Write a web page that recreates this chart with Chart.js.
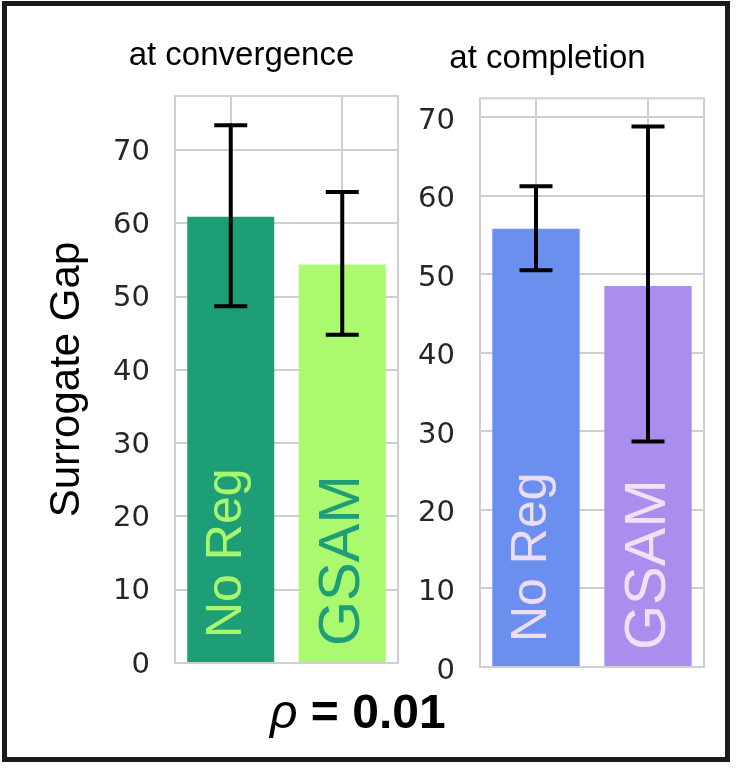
<!DOCTYPE html>
<html><head><meta charset="utf-8">
<script src="https://cdn.jsdelivr.net/npm/chart.js@4.4.1/dist/chart.umd.min.js"></script>
<style>
html,body{margin:0;padding:0;background:#fff;}
body{width:745px;height:772px;position:relative;overflow:hidden;}
#frame{position:absolute;left:2px;top:1px;width:728px;height:761px;box-sizing:border-box;border:5px solid #1b1b1b;}
#c1{position:absolute;left:0;top:0;}
#c2{position:absolute;left:380px;top:0;}
#rho{position:absolute;left:270px;top:688px;font-family:'Liberation Sans',Arial,sans-serif;font-size:48px;line-height:48px;font-weight:bold;color:#000;white-space:nowrap;}
</style></head>
<body>
<div id="frame"></div>
<canvas id="c1" width="483" height="772"></canvas>
<canvas id="c2" width="335" height="772"></canvas>
<div id="rho"><span style="font-style:italic;font-weight:normal">ρ</span> = 0.01</div>
<script>
// ---- data ----
const categories = ['No Reg', 'GSAM'];
const convMeans = [60.9, 54.4];
const convLower = [48.7, 44.8];
const convUpper = [73.4, 64.3];
const compMeans = [55.8, 48.5];
const compLower = [50.5, 28.7];
const compUpper = [61.2, 68.8];
const convYMax = 77.4;
const compYMax = 72.4;
const yTicks = [0, 10, 20, 30, 40, 50, 60, 70];
const titles = ['at convergence', 'at completion'];
const yLabel = 'Surrogate Gap';

// ---- styles ----
const GRID = '#cfcfcf';
const convColors = ['#1e9e76', '#aaf96f'];
const convLabelColors = ['#a8f56e', '#1e9e76'];
const compColors = ['#6a8fee', '#a98eee'];
const compLabelColors = ['#ecdcf6', '#f1e0f8'];

const decor = {
  id: 'decor',
  beforeDatasetsDraw(chart, args, o) {
    const {ctx, chartArea: a} = chart;
    ctx.save();
    ctx.strokeStyle = GRID;
    ctx.lineWidth = 2;
    ctx.strokeRect(a.left, a.top, a.right - a.left, a.bottom - a.top);
    ctx.restore();
  },
  afterDatasetsDraw(chart, args, o) {
    const {ctx} = chart;
    const meta = chart.getDatasetMeta(0);
    const ys = chart.scales.y;
    const y0 = ys.getPixelForValue(0);
    ctx.save();
    meta.data.forEach((bar, i) => {
      ctx.save();
      ctx.translate(bar.x + o.dx[i], y0 - o.dy[i]);
      ctx.rotate(-Math.PI / 2);
      ctx.font = o.sizes[i] + "px 'Liberation Sans', Arial, sans-serif";
      ctx.fillStyle = o.labelColors[i];
      ctx.textAlign = 'left';
      ctx.textBaseline = 'alphabetic';
      ctx.fillText(categories[i], 0, 0);
      ctx.restore();
    });
    ctx.strokeStyle = '#000';
    ctx.lineWidth = 4;
    meta.data.forEach((bar, i) => {
      const yt = ys.getPixelForValue(o.upper[i]);
      const yb = ys.getPixelForValue(o.lower[i]);
      ctx.beginPath();
      ctx.moveTo(bar.x, yt); ctx.lineTo(bar.x, yb);
      ctx.moveTo(bar.x - 16.5, yt); ctx.lineTo(bar.x + 16.5, yt);
      ctx.moveTo(bar.x - 16.5, yb); ctx.lineTo(bar.x + 16.5, yb);
      ctx.stroke();
    });
    ctx.restore();
  }
};

function makeChart(id, means, colors, labelColors, lower, upper, ymax, title, opts) {
  return new Chart(document.getElementById(id), {
    type: 'bar',
    data: {
      labels: categories,
      datasets: [{ data: means, backgroundColor: colors, borderWidth: 0,
        barPercentage: 0.78, categoryPercentage: 1.0, yAxisID: 'y' }]
    },
    plugins: [decor],
    options: {
      responsive: false,
      animation: false,
      devicePixelRatio: 1,
      layout: { padding: { left: 0, right: 0, top: 0, bottom: opts.padBottom } },
      plugins: {
        legend: { display: false },
        tooltip: { enabled: false },
        title: {
          display: true, text: title, color: '#000',
          font: { family: "'Liberation Sans', Arial, sans-serif", size: 33, weight: 'normal' },
          padding: { top: opts.titleTop, bottom: opts.titleBottom }
        },
        decor: { lower, upper, labelColors, sizes: [50, 58], dx: [10, 17], dy: [25, 17] }
      },
      scales: {
        x: {
          grid: { display: true, offset: false, color: GRID, lineWidth: 2, drawTicks: false },
          border: { display: false },
          ticks: { display: false },
          afterFit: s => { s.height = 0; }
        },
        y: {
          position: 'left',
          min: 0, max: ymax,
          afterBuildTicks: s => { s.ticks = yTicks.map(v => ({ value: v })); },
          grid: { color: GRID, lineWidth: 2, drawTicks: false },
          border: { display: false },
          ticks: { padding: 25, color: '#262626', labelOffset: opts.labelOffset,
            font: { family: "'DejaVu Sans', sans-serif", size: 29 } },
          title: opts.yTitle ? {
            display: true, text: yLabel, color: '#000',
            font: { family: "'Liberation Sans', Arial, sans-serif", size: 42, weight: 'normal' },
            padding: { top: 42, bottom: 0 }
          } : { display: false },
          afterFit: s => { s.width = opts.axisWidth; }
        },
        spacer: {
          type: 'linear', position: 'right', display: true,
          grid: { display: false, drawTicks: false },
          border: { display: false },
          ticks: { display: false },
          afterFit: s => { s.width = opts.rightGap; }
        }
      }
    }
  });
}

makeChart('c1', convMeans, convColors, convLabelColors, convLower, convUpper, convYMax, titles[0],
  { padBottom: 109, titleTop: 36.1, titleBottom: 20.3, axisWidth: 175, rightGap: 85, yTitle: true, labelOffset: 2 });
makeChart('c2', compMeans, compColors, compLabelColors, compLower, compUpper, compYMax, titles[1],
  { padBottom: 105, titleTop: 38.8, titleBottom: 19.9, axisWidth: 100, rightGap: 11, yTitle: false, labelOffset: 4 });
</script>
</body></html>
